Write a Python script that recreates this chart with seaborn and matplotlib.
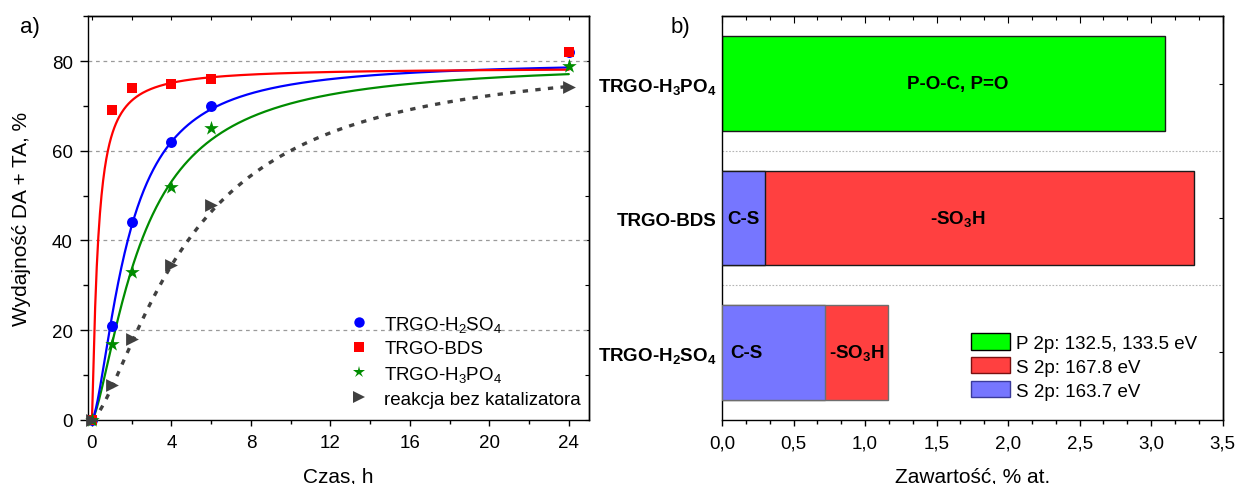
import numpy as np
import pandas as pd
import matplotlib
matplotlib.use("Agg")
import matplotlib.pyplot as plt
import seaborn as sns
from matplotlib.lines import Line2D
from matplotlib.patches import Patch
from matplotlib.ticker import MultipleLocator, AutoMinorLocator, FuncFormatter

# ---------------- data: panel a) ----------------
time_h = [0, 1, 2, 4, 6, 24]
series_labels = ["TRGO-H$_2$SO$_4$", "TRGO-BDS", "TRGO-H$_3$PO$_4$", "reakcja bez katalizatora"]
yield_h2so4 = [0, 21, 44, 62, 70, 82]
yield_bds = [0, 69, 74, 75, 76, 82]
yield_h3po4 = [0, 17, 33, 52, 65, 79]
yield_none = [0, 7.8, 18, 34.5, 48, 74.3]
# fitted kinetic curves (Hill-type model): y = A t^n / (K^n + t^n)
fit_A = [80, 78.5, 80, 82]
fit_K = [1.8, 0.3, 2.5, 5.0]
fit_n = [1.55, 1.2, 1.45, 1.45]

# ---------------- data: panel b) ----------------
samples = ["TRGO-H$_3$PO$_4$", "TRGO-BDS", "TRGO-H$_2$SO$_4$"]
cs_content = [0.0, 0.30, 0.72]      # S 2p 163.7 eV (C-S)
so3h_content = [0.0, 3.00, 0.44]    # S 2p 167.8 eV (-SO3H)
poc_content = [3.10, 0.0, 0.0]      # P 2p 132.5, 133.5 eV
legend_b = ["P 2p: 132.5, 133.5 eV", "S 2p: 167.8 eV", "S 2p: 163.7 eV"]
bar_texts = ["P-O-C, P=O", "C-S", "-SO$_3$H", "C-S", "-SO$_3$H"]
bar_text_x = [1.65, 0.15, 1.65, 0.17, 0.94]
bar_text_row = [0, 1, 1, 2, 2]

# ---------------- style ----------------
sns.set_style("ticks")
plt.rcParams.update({
    "font.family": ["Liberation Sans", "DejaVu Sans"],
    "mathtext.fontset": "custom",
    "mathtext.rm": "Liberation Sans",
    "mathtext.it": "Liberation Sans:italic",
    "mathtext.bf": "Liberation Sans:bold",
    "mathtext.default": "regular",
    "font.size": 13.5,
    "axes.linewidth": 1.0,
    "axes.edgecolor": "black",
    "xtick.color": "black",
    "ytick.color": "black",
    "text.color": "black",
    "axes.labelcolor": "black",
})

W, H = 1237, 485
fig = plt.figure(figsize=(W / 100, H / 100), dpi=100)
ax1 = fig.add_axes([88 / W, 1 - 420.7 / H, (588.7 - 88) / W, (420.7 - 17.3) / H])
ax2 = fig.add_axes([722 / W, 1 - 420.7 / H, (1222.7 - 722) / W, (420.7 - 17.3) / H])

# ---------------- panel a) ----------------
colors = ["#0000FF", "#FF0000", "#008C00", "#404040"]
markers = ["o", "s", "*", ">"]
msizes = [62, 52, 120, 85]
ys = [yield_h2so4, yield_bds, yield_h3po4, yield_none]

t_fit = np.linspace(0, 24, 600)
for i in [3, 2, 0, 1]:
    yfit = fit_A[i] * t_fit ** fit_n[i] / (fit_K[i] ** fit_n[i] + t_fit ** fit_n[i])
    if i < 3:
        sns.lineplot(x=t_fit, y=yfit, ax=ax1, color=colors[i], lw=1.6, zorder=2)
    else:
        sns.lineplot(x=t_fit, y=yfit, ax=ax1, color=colors[i], lw=2.4,
                     linestyle=(0, (1.6, 2.2)), zorder=2)

for i in range(4):
    sns.scatterplot(x=time_h, y=ys[i], ax=ax1, color=colors[i], marker=markers[i],
                    s=msizes[i], linewidth=0, zorder=3 + i, clip_on=False)

ax1.set_xlim(-0.2, 25)
ax1.set_ylim(0, 90)
ax1.xaxis.set_major_locator(MultipleLocator(4))
ax1.xaxis.set_minor_locator(MultipleLocator(2))
ax1.yaxis.set_major_locator(MultipleLocator(20))
ax1.yaxis.set_minor_locator(MultipleLocator(10))
ax1.tick_params(axis="x", which="major", direction="out", length=4.5, width=1, pad=6)
ax1.tick_params(axis="x", which="minor", direction="out", length=3, width=1)
ax1.tick_params(axis="y", which="major", direction="out", length=6, width=1, pad=5)
ax1.tick_params(axis="y", which="minor", direction="out", length=3.5, width=1)
for yv in [20, 40, 60, 80]:
    ax1.axhline(yv, color="#9a9a9a", lw=0.9, ls=(0, (3, 3)), zorder=1)

sx1 = ax1.secondary_xaxis("top")
sx1.xaxis.set_major_locator(MultipleLocator(4))
sx1.xaxis.set_minor_locator(MultipleLocator(2))
sx1.tick_params(axis="x", which="both", direction="in", labeltop=False, length=3, width=0.8)
sy1 = ax1.secondary_yaxis("right")
sy1.yaxis.set_major_locator(MultipleLocator(20))
sy1.yaxis.set_minor_locator(MultipleLocator(10))
sy1.tick_params(axis="y", which="both", direction="in", labelright=False, length=3, width=0.8)

ax1.set_xlabel("Czas, h", labelpad=11, fontsize=15)
ax1.set_ylabel("Wydajność DA + TA, %", labelpad=15, fontsize=15)

handles_a = [Line2D([], [], color=colors[i], marker=markers[i], linestyle="none",
                    markersize=np.sqrt(msizes[i]) * (0.95 if i != 2 else 0.85),
                    markeredgewidth=0) for i in range(4)]
ax1.legend(handles_a, series_labels, loc="lower right", bbox_to_anchor=(0.985, 0.03),
           frameon=False, borderpad=0, borderaxespad=0, handlelength=1.0,
           handletextpad=0.85, labelspacing=0.35, fontsize=13.5)

# ---------------- panel b) ----------------
green, red, blue = "#00FF00", "#FF4040", "#7676FF"
totals = [c + s + p for c, s, p in zip(cs_content, so3h_content, poc_content)]
df_tot = pd.DataFrame({"sample": samples, "total": totals})
tot_palette = {samples[0]: green, samples[1]: red, samples[2]: red}
sns.barplot(data=df_tot, x="total", y="sample", hue="sample", order=samples,
            hue_order=samples, palette=tot_palette, dodge=False, width=0.7,
            saturation=1, legend=False, edgecolor="#1a1a1a", linewidth=1.0,
            orient="h", ax=ax2, zorder=2)
df_cs = pd.DataFrame({"sample": samples, "cs": cs_content})
df_cs = df_cs[df_cs["cs"] > 0]
sns.barplot(data=df_cs, x="cs", y="sample", order=samples, color=blue, width=0.7,
            saturation=1, edgecolor="#1a1a1a", linewidth=1.0, orient="h", ax=ax2, zorder=3)
for p in ax2.patches:
    yc = p.get_y() + p.get_height() / 2
    if abs(yc - 2) < 0.1:
        p.set_edgecolor("#6e6e6e")

for txt, xv, row in zip(bar_texts, bar_text_x, bar_text_row):
    ax2.text(xv, row, txt, ha="center", va="center", fontweight="bold",
             fontsize=13.5, zorder=5)

ax2.set_xlim(0, 3.5)
ax2.set_ylim(2.5, -0.5)
ax2.xaxis.set_major_locator(MultipleLocator(0.5))
ax2.xaxis.set_minor_locator(AutoMinorLocator(3))
ax2.xaxis.set_major_formatter(FuncFormatter(lambda v, pos: f"{v:.1f}".replace(".", ",")))
ax2.set_yticks([0, 1, 2])
ax2.set_yticklabels(samples, fontweight="bold", fontsize=13.5)
ax2.set_yticks([0.5, 1.5], minor=True)
ax2.grid(axis="y", which="minor", color="#b5b5b5", lw=0.8, ls=(0, (1.5, 1.5)), zorder=1)
ax2.grid(axis="x", visible=False)
ax2.tick_params(axis="y", which="both", length=0, pad=4)
ax2.tick_params(axis="x", which="major", direction="out", length=4.5, width=1, pad=6)
ax2.tick_params(axis="x", which="minor", direction="out", length=3, width=1)

sx2 = ax2.secondary_xaxis("top")
sx2.xaxis.set_major_locator(MultipleLocator(0.5))
sx2.xaxis.set_minor_locator(AutoMinorLocator(3))
sx2.tick_params(axis="x", which="major", direction="in", labeltop=False, length=5, width=0.8)
sx2.tick_params(axis="x", which="minor", direction="in", labeltop=False, length=3, width=0.8)
sy2 = ax2.secondary_yaxis("right")
sy2.set_yticks([0, 1, 2])
sy2.tick_params(axis="y", which="major", direction="in", labelright=False, length=3, width=0.8)
sy2.tick_params(axis="y", which="minor", length=0)

ax2.set_xlabel("Zawartość, % at.", labelpad=11, fontsize=15)
ax2.set_ylabel("")

handles_b = [Patch(facecolor=green, edgecolor="#000000", lw=1.0),
             Patch(facecolor=red, edgecolor="#7a1010", lw=1.0),
             Patch(facecolor=blue, edgecolor="#3a3a9a", lw=1.0)]
ax2.legend(handles_b, legend_b, loc="lower right", bbox_to_anchor=(0.948, 0.05),
           frameon=False, borderpad=0, borderaxespad=0, handlelength=2.05,
           handleheight=0.95, handletextpad=0.3, labelspacing=0.28, fontsize=13.5)

fig.text(30 / W, 1 - 28 / H, "a)", ha="center", va="center", fontsize=16)
fig.text(680 / W, 1 - 28 / H, "b)", ha="center", va="center", fontsize=16)

fig.savefig("out.png", dpi=100)
